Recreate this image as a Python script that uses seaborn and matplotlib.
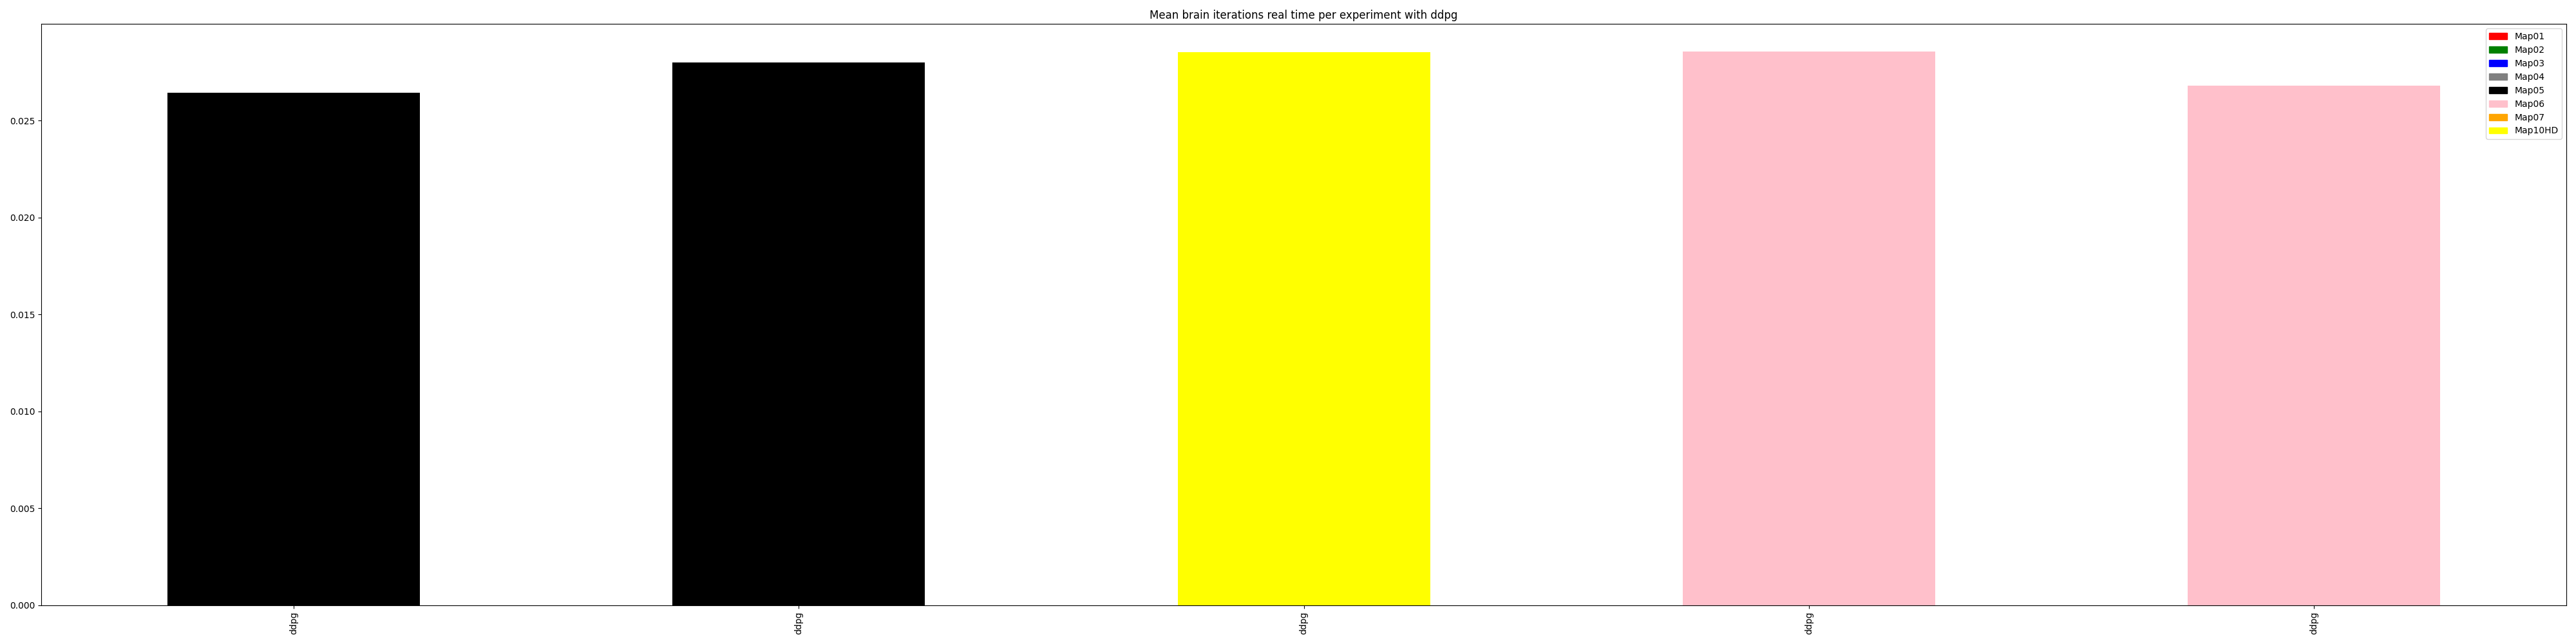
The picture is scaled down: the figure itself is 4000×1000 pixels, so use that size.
import numpy as np
import pandas as pd
import seaborn as sns
from matplotlib import pyplot as plt
from matplotlib.patches import Patch

experiments = ["ddpg", "ddpg", "ddpg", "ddpg", "ddpg"]
mean_times = [0.02644, 0.02801, 0.02852, 0.02855, 0.02681]
bar_colors = ["black", "black", "yellow", "pink", "pink"]

map_names = ["Map01", "Map02", "Map03", "Map04", "Map05", "Map06", "Map07", "Map10HD"]
map_colors = ["red", "green", "blue", "grey", "black", "pink", "orange", "yellow"]

df = pd.DataFrame({"run": [str(i) for i in range(len(mean_times))],
                   "time": mean_times})

fig, ax = plt.subplots(figsize=(40, 10), dpi=100)
sns.barplot(data=df, x="run", y="time", hue="run", palette=bar_colors,
            width=0.5, saturation=1, legend=False, ax=ax)

ax.set_xticks(range(len(experiments)))
ax.set_xticklabels(experiments, rotation=90)
ax.set_xlabel("")
ax.set_ylabel("")
ax.set_xlim(-0.5, len(experiments) - 0.5)
ax.set_ylim(0, max(mean_times) * 1.05)
ax.set_title("Mean brain iterations real time per experiment with ddpg")

handles = [Patch(color=c, label=n) for n, c in zip(map_names, map_colors)]
ax.legend(handles=handles, loc="upper right")

plt.tight_layout()
plt.savefig("out.png")
